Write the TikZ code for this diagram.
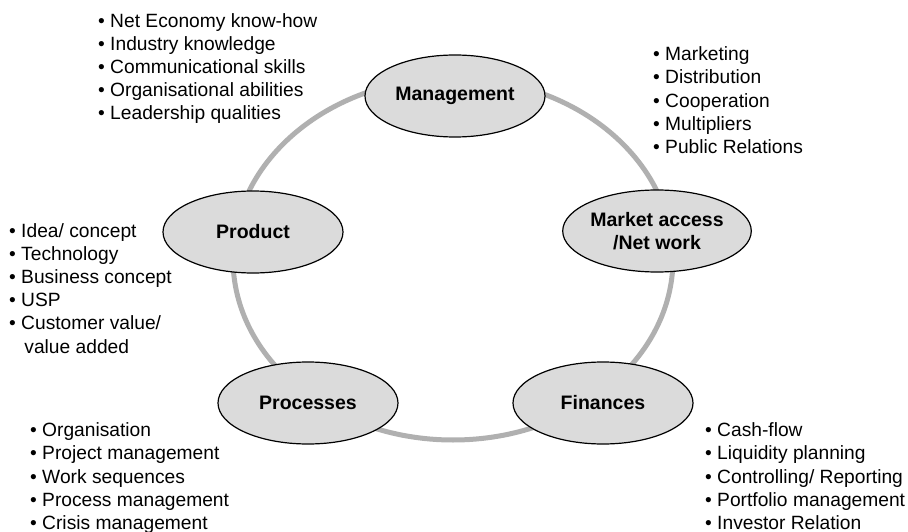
\documentclass[tikz,border=0pt]{standalone}
\usepackage{fontspec}
\setmainfont{Liberation Sans}
\usetikzlibrary{shapes.geometric}
\begin{document}
\begin{tikzpicture}[x=1pt,y=-1pt,
  topic/.style={ellipse, draw=black, line width=1.2pt, fill=black!14,
    minimum width=180pt, minimum height=82pt, inner sep=0pt,
    font=\fontsize{19.5}{23}\selectfont\bfseries, align=center},
  items/.style={anchor=north west, inner sep=0pt, align=left,
    font=\fontsize{19.2}{23.2}\selectfont},
  ring/.style={draw=black!31, line width=5pt}]
\useasboundingbox (0,0) rectangle (908,532);
\fill[white] (0,0) rectangle (908,532);
\draw[ring] (453,259) ellipse [x radius=220, y radius=181];
\node[topic] (mgmt) at (455,96) {Management};
\node[topic] (market) at (657,231) {Market access\\/Net work};
\node[topic] (product) at (253,232) {Product};
\node[topic] (proc) at (308,403) {Processes};
\node[topic] (fin) at (603,403) {Finances};
\node[items] (lmgmt) at (98,13) {\textbullet\ Net Economy know-how\\\textbullet\ Industry knowledge\\\textbullet\ Communicational skills\\\textbullet\ Organisational abilities\\\textbullet\ Leadership qualities};
\node[items] (lmarket) at (653,46.5) {\textbullet\ Marketing\\\textbullet\ Distribution\\\textbullet\ Cooperation\\\textbullet\ Multipliers\\\textbullet\ Public Relations};
\node[items] (lproduct) at (9,223) {\textbullet\ Idea/ concept\\\textbullet\ Technology\\\textbullet\ Business concept\\\textbullet\ USP\\\textbullet\ Customer value/\\\hphantom{\textbullet}\ \,value added};
\node[items] (lproc) at (30,422.5) {\textbullet\ Organisation\\\textbullet\ Project management\\\textbullet\ Work sequences\\\textbullet\ Process management\\\textbullet\ Crisis management};
\node[items] (lfin) at (705,422.5) {\textbullet\ Cash-flow\\\textbullet\ Liquidity planning\\\textbullet\ Controlling/ Reporting\\\textbullet\ Portfolio management\\\textbullet\ Investor Relation};
\end{tikzpicture}
\end{document}
